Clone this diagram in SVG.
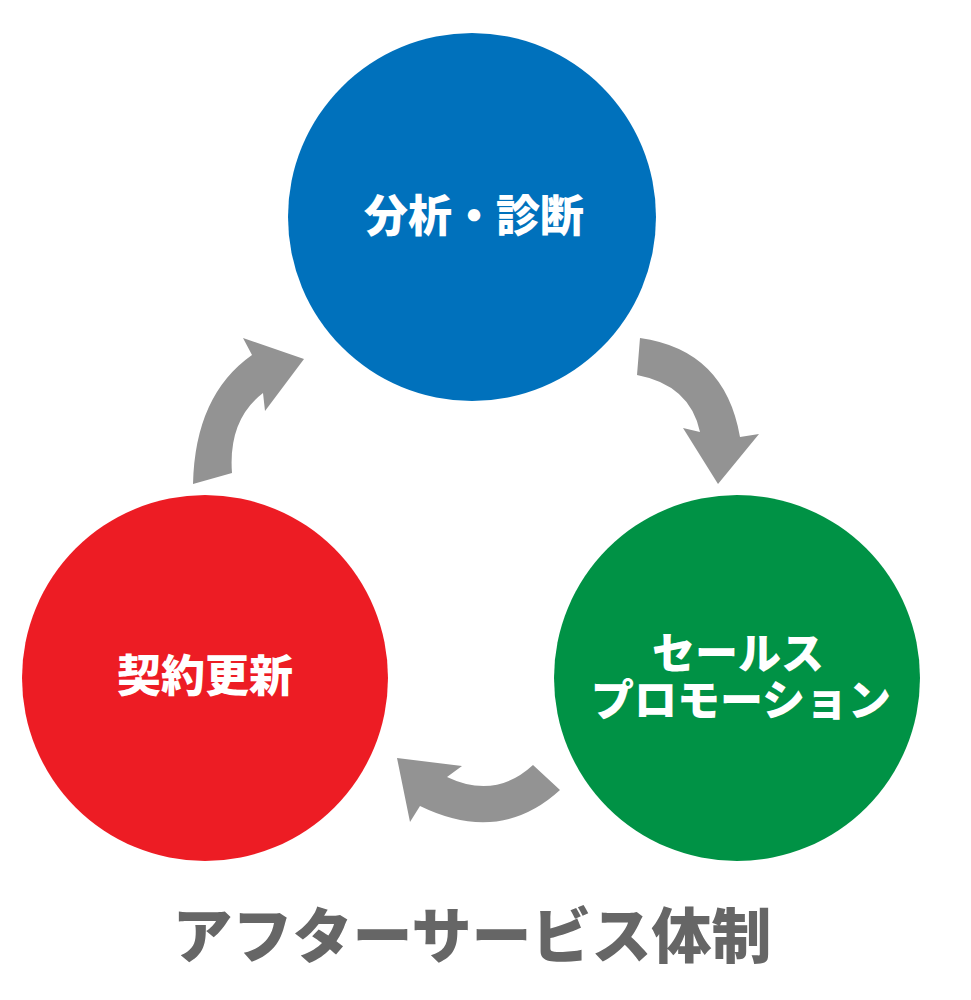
<svg xmlns="http://www.w3.org/2000/svg" width="971" height="1000" viewBox="0 0 971 1000">
<style>
.lbl{font-family:"Noto Sans CJK JP","Noto Sans CJK SC",sans-serif;font-weight:900;fill:#ffffff;text-anchor:middle}
.arrow{fill:#939393}
.title{font-family:"Noto Sans CJK JP","Noto Sans CJK SC",sans-serif;font-weight:900;fill:#666666;text-anchor:middle;font-size:60px}
</style>
<rect width="971" height="1000" fill="#ffffff"/>
<g id="connectors">
<path class="arrow" d="M193,484 Q195,395 252,355 L243,338 L304,359 L265,411 L263,393 Q228,420 232,473 Z"/>
<path class="arrow" d="M640,338 Q725,350 740,437 L759,434 L718,484 L683,428 L700,432 Q690,385 637,375 Z"/>
<path class="arrow" d="M533,765 Q495,800 447,777 L462,766 L397,758 L410,822 L420,806 Q500,845 560,790 Z"/>
</g>
<g id="node-analysis">
<circle cx="472" cy="217" r="184" fill="#0071bc"/>
<text class="lbl" x="474" y="232" font-size="44">分析・診断</text>
</g>
<g id="node-sales">
<circle cx="737" cy="678" r="183" fill="#009245"/>
<text class="lbl" x="738" y="669" font-size="43">セールス</text>
<text class="lbl" x="741" y="716" font-size="43">プロモーション</text>
</g>
<g id="node-renewal">
<circle cx="205" cy="678" r="183" fill="#ed1c24"/>
<text class="lbl" x="205" y="692" font-size="44">契約更新</text>
</g>
<text class="title" x="472" y="958">アフターサービス体制</text>
</svg>
